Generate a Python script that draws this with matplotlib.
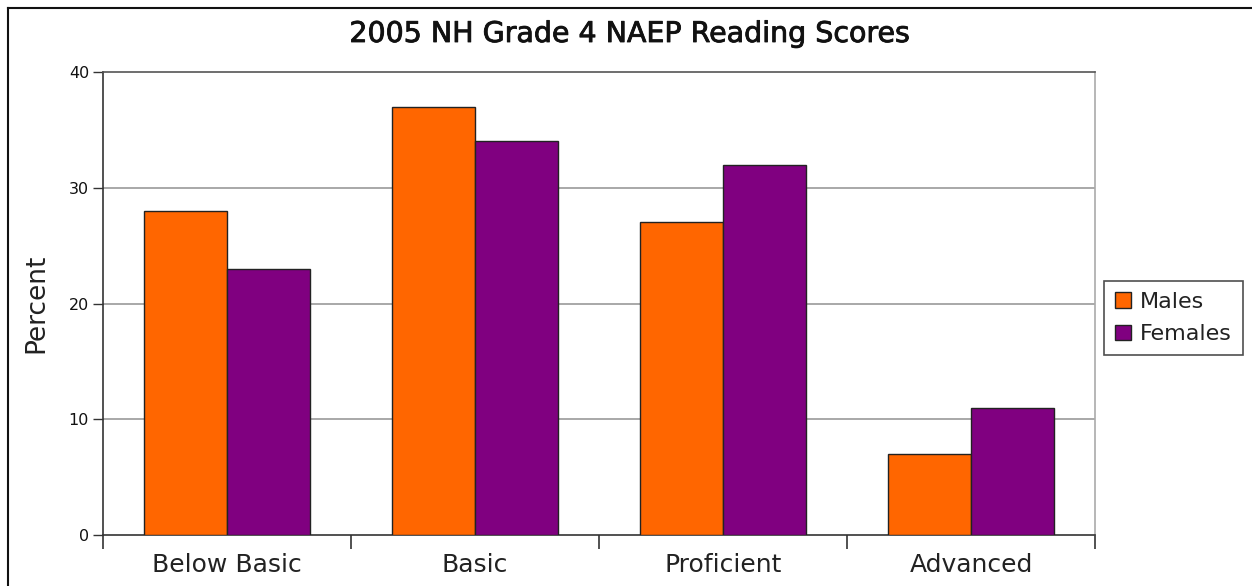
import numpy as np
import matplotlib
matplotlib.use("Agg")
from matplotlib import pyplot as plt
from matplotlib.lines import Line2D
import matplotlib.patheffects as pe

categories = ["Below Basic", "Basic", "Proficient", "Advanced"]
males = [28, 37, 27, 7]
females = [23, 34, 32, 11]
series_names = ["Males", "Females"]
yticks = [0, 10, 20, 30, 40]

fig = plt.figure(figsize=(12.52, 5.86), dpi=100)
ax = fig.add_axes([103 / 1252, 1 - 535 / 586, (1095 - 103) / 1252, (535 - 72) / 586])

# outer frame (only top and left visible in the reference)
fig.add_artist(Line2D([8 / 1252, 1.0], [1 - 8 / 586] * 2, color="#111111", lw=1.5, transform=fig.transFigure))
fig.add_artist(Line2D([8 / 1252] * 2, [0.0, 1 - 8 / 586], color="#111111", lw=1.5, transform=fig.transFigure))

x = np.arange(len(categories))
w = 0.335
ax.bar(x - w / 2, males, w, color="#ff6600", edgecolor="#222222", lw=1.0, label=series_names[0], zorder=3)
ax.bar(x + w / 2, females, w, color="#800080", edgecolor="#222222", lw=1.0, label=series_names[1], zorder=3)

ax.set_xlim(-0.5, len(categories) - 0.5)
ax.set_ylim(0, 40)
ax.set_yticks(yticks)
ax.tick_params(axis="y", labelsize=11.5, length=7, width=1, direction="out", color="#333333", pad=3,
               labelcolor="#111111")
ax.set_xticks(x)
ax.set_xticklabels(categories, fontsize=18, color="#222222")
ax.tick_params(axis="x", length=0, pad=13)
ax.set_xticks(np.arange(-0.5, len(categories)), minor=True)
ax.tick_params(axis="x", which="minor", length=10, width=1.2, color="#333333", direction="out")

for v in [10, 20, 30]:
    ax.axhline(v, color="#999999", lw=1.2, zorder=1)
ax.spines["top"].set_color("#555555")
ax.spines["right"].set_color("#aaaaaa")
ax.spines["left"].set_color("#333333")
ax.spines["bottom"].set_color("#333333")
for s in ax.spines.values():
    s.set_linewidth(1.2)

ax.set_ylabel("Percent", fontsize=19, color="#222222", labelpad=14)
fig.text(630 / 1252, 1 - 34 / 586, "2005 NH Grade 4 NAEP Reading Scores", ha="center", va="center",
         fontsize=20.5, color="#111111",
         path_effects=[pe.withStroke(linewidth=0.6, foreground="#111111")])

leg = ax.legend(loc="center left", bbox_to_anchor=(1104 / 1252, 1 - 318 / 586), bbox_transform=fig.transFigure,
                fontsize=16, frameon=True, fancybox=False, edgecolor="#222222", handlelength=0.7,
                handleheight=0.7, handletextpad=0.4, borderpad=0.5, labelspacing=0.55, borderaxespad=0)
leg.get_frame().set_linewidth(1.2)
for t in leg.get_texts():
    t.set_color("#222222")

fig.savefig("out.png", dpi=100)
